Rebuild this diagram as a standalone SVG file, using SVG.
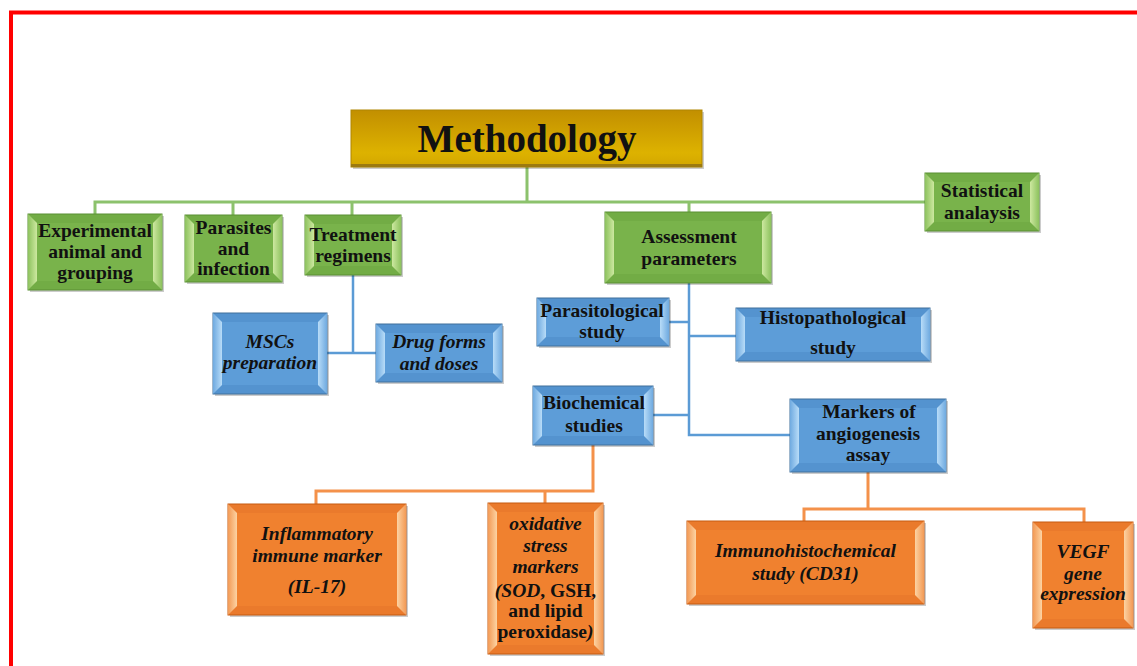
<svg xmlns="http://www.w3.org/2000/svg" width="1137" height="666" viewBox="0 0 1137 666">
<defs>
<linearGradient id="gold" x1="0" y1="0" x2="0" y2="1">
<stop offset="0" stop-color="#C28F00"/><stop offset="0.75" stop-color="#DDB200"/><stop offset="1" stop-color="#D2A600"/>
</linearGradient>
<linearGradient id="gL" x1="0" y1="0" x2="1" y2="0">
<stop offset="0" stop-color="#8DC25E"/><stop offset="1" stop-color="#CDE8A0"/>
</linearGradient>
<linearGradient id="gR" x1="1" y1="0" x2="0" y2="0">
<stop offset="0" stop-color="#8DC25E"/><stop offset="1" stop-color="#CDE8A0"/>
</linearGradient>
<linearGradient id="bL" x1="0" y1="0" x2="1" y2="0">
<stop offset="0" stop-color="#6FAAE0"/><stop offset="1" stop-color="#B8DCF8"/>
</linearGradient>
<linearGradient id="bR" x1="1" y1="0" x2="0" y2="0">
<stop offset="0" stop-color="#6FAAE0"/><stop offset="1" stop-color="#B8DCF8"/>
</linearGradient>
<linearGradient id="oL" x1="0" y1="0" x2="1" y2="0">
<stop offset="0" stop-color="#F39A55"/><stop offset="1" stop-color="#FCD3A3"/>
</linearGradient>
<linearGradient id="oR" x1="1" y1="0" x2="0" y2="0">
<stop offset="0" stop-color="#F39A55"/><stop offset="1" stop-color="#FCD3A3"/>
</linearGradient>
<style>
.sh{fill:#000;opacity:.2}
.go{fill:#72AC45;stroke:#5B8F35;stroke-width:1}
.gl{fill:url(#gL)}
.gr{fill:url(#gR)}
.gi{fill:#79B34B}
.bo{fill:#5493CF;stroke:#41719C;stroke-width:1}
.bl{fill:url(#bL)}
.br{fill:url(#bR)}
.bi{fill:#5D9DD8}
.oo{fill:#EA7A2C;stroke:#C55A11;stroke-width:1}
.ol{fill:url(#oL)}
.or{fill:url(#oR)}
.oi{fill:#F0812F}
.t{font-family:"Liberation Serif","Times New Roman",serif;font-weight:bold;font-size:19.5px;text-anchor:middle;fill:#111}
.i{font-style:italic}
.cg{fill:none;stroke:#8CC26C;stroke-width:3}
.cb{fill:none;stroke:#5B9BD5;stroke-width:2.5}
.co{fill:none;stroke:#F4914A;stroke-width:3}
</style>
</defs>
<rect width="1137" height="666" fill="#fff"/>
<path d="M11 666V12.5H1137" fill="none" stroke="#FF0000" stroke-width="4"/>

<g id="connectors">
<path class="cg" d="M527 167V202M95 214V202H925M233 215V202M352 215V202M689 212V202"/>
<path class="cb" d="M353 275V353M327 353H376M689 283V435H790M669 322H689M689 336H736M653 415H689"/>
<path class="co" d="M593 445V491H316V504M545 491V503M868 472V509M804 521V509H1084V522"/>
</g>

<g id="methodology">
<rect class="sh" x="353" y="112" width="351" height="57"/>
<rect x="351" y="110" width="351" height="57" fill="url(#gold)" stroke="#B08600" stroke-width="1"/>
<rect x="351" y="164" width="351" height="3" fill="#9C7A10"/>
<text class="t" x="527" y="152" style="font-size:39px">Methodology</text>
</g>

<g id="experimental">
<rect class="sh" x="30" y="216" width="134" height="76"/>
<rect class="go" x="28" y="214" width="134" height="76"/>
<polygon class="gl" points="28,214 37,223 37,281 28,290"/>
<polygon class="gr" points="162,214 153,223 153,281 162,290"/>
<rect class="gi" x="37" y="223" width="116" height="58"/>
<text class="t" x="95" y="237">Experimental</text>
<text class="t" x="95" y="258">animal and</text>
<text class="t" x="95" y="279">grouping</text>
</g>

<g id="parasites">
<rect class="sh" x="187" y="217" width="97" height="67"/>
<rect class="go" x="185" y="215" width="97" height="67"/>
<polygon class="gl" points="185,215 194,224 194,273 185,282"/>
<polygon class="gr" points="282,215 273,224 273,273 282,282"/>
<rect class="gi" x="194" y="224" width="79" height="49"/>
<text class="t" x="233.5" y="234">Parasites</text>
<text class="t" x="233.5" y="255">and</text>
<text class="t" x="233.5" y="275">infection</text>
</g>

<g id="treatment">
<rect class="sh" x="307" y="217" width="96" height="60"/>
<rect class="go" x="305" y="215" width="96" height="60"/>
<polygon class="gl" points="305,215 314,224 314,266 305,275"/>
<polygon class="gr" points="401,215 392,224 392,266 401,275"/>
<rect class="gi" x="314" y="224" width="78" height="42"/>
<text class="t" x="353" y="241">Treatment</text>
<text class="t" x="353" y="262">regimens</text>
</g>

<g id="assessment">
<rect class="sh" x="607" y="214" width="166" height="71"/>
<rect class="go" x="605" y="212" width="166" height="71"/>
<polygon class="gl" points="605,212 614,221 614,274 605,283"/>
<polygon class="gr" points="771,212 762,221 762,274 771,283"/>
<rect class="gi" x="614" y="221" width="148" height="53"/>
<text class="t" x="689" y="243">Assessment</text>
<text class="t" x="689" y="265">parameters</text>
</g>

<g id="statistical">
<rect class="sh" x="927" y="175" width="114" height="58"/>
<rect class="go" x="925" y="173" width="114" height="58"/>
<polygon class="gl" points="925,173 934,182 934,222 925,231"/>
<polygon class="gr" points="1039,173 1030,182 1030,222 1039,231"/>
<rect class="gi" x="934" y="182" width="96" height="40"/>
<text class="t" x="982" y="197">Statistical</text>
<text class="t" x="982" y="219">analaysis</text>
</g>

<g id="mscs">
<rect class="sh" x="215" y="315" width="114" height="81"/>
<rect class="bo" x="213" y="313" width="114" height="81"/>
<polygon class="bl" points="213,313 222,322 222,385 213,394"/>
<polygon class="br" points="327,313 318,322 318,385 327,394"/>
<rect class="bi" x="222" y="322" width="96" height="63"/>
<text class="t i" x="270" y="348">MSCs</text>
<text class="t i" x="270" y="369">preparation</text>
</g>

<g id="drug">
<rect class="sh" x="378" y="326" width="126" height="58"/>
<rect class="bo" x="376" y="324" width="126" height="58"/>
<polygon class="bl" points="376,324 385,333 385,373 376,382"/>
<polygon class="br" points="502,324 493,333 493,373 502,382"/>
<rect class="bi" x="385" y="333" width="108" height="40"/>
<text class="t i" x="439" y="348">Drug forms</text>
<text class="t i" x="439" y="370">and doses</text>
</g>

<g id="parasitological">
<rect class="sh" x="539" y="300" width="132" height="48"/>
<rect class="bo" x="537" y="298" width="132" height="48"/>
<polygon class="bl" points="537,298 546,307 546,337 537,346"/>
<polygon class="br" points="669,298 660,307 660,337 669,346"/>
<rect class="bi" x="546" y="307" width="114" height="30"/>
<text class="t" x="602" y="317">Parasitological</text>
<text class="t" x="602" y="338">study</text>
</g>

<g id="histopathological">
<rect class="sh" x="738" y="310" width="194" height="53"/>
<rect class="bo" x="736" y="308" width="194" height="53"/>
<polygon class="bl" points="736,308 745,317 745,352 736,361"/>
<polygon class="br" points="930,308 921,317 921,352 930,361"/>
<rect class="bi" x="745" y="317" width="176" height="35"/>
<text class="t" x="833" y="324">Histopathological</text>
<text class="t" x="833" y="354">study</text>
</g>

<g id="biochemical">
<rect class="sh" x="535" y="388" width="120" height="59"/>
<rect class="bo" x="533" y="386" width="120" height="59"/>
<polygon class="bl" points="533,386 542,395 542,436 533,445"/>
<polygon class="br" points="653,386 644,395 644,436 653,445"/>
<rect class="bi" x="542" y="395" width="102" height="41"/>
<text class="t" x="594" y="409">Biochemical</text>
<text class="t" x="594" y="432">studies</text>
</g>

<g id="markers">
<rect class="sh" x="792" y="401" width="156" height="73"/>
<rect class="bo" x="790" y="399" width="156" height="73"/>
<polygon class="bl" points="790,399 799,408 799,463 790,472"/>
<polygon class="br" points="946,399 937,408 937,463 946,472"/>
<rect class="bi" x="799" y="408" width="138" height="55"/>
<text class="t" x="869" y="418">Markers of</text>
<text class="t" x="868" y="440">angiogenesis</text>
<text class="t" x="868" y="461">assay</text>
</g>

<g id="inflammatory">
<rect class="sh" x="230" y="506" width="178" height="111"/>
<rect class="oo" x="228" y="504" width="178" height="111"/>
<polygon class="ol" points="228,504 237,513 237,606 228,615"/>
<polygon class="or" points="406,504 397,513 397,606 406,615"/>
<rect class="oi" x="237" y="513" width="160" height="93"/>
<text class="t i" x="317" y="540">Inflammatory</text>
<text class="t i" x="317" y="562">immune marker</text>
<text class="t i" x="317" y="593">(IL-17)</text>
</g>

<g id="oxidative">
<rect class="sh" x="490" y="505" width="115" height="151"/>
<rect class="oo" x="488" y="503" width="115" height="151"/>
<polygon class="ol" points="488,503 497,512 497,645 488,654"/>
<polygon class="or" points="603,503 594,512 594,645 603,654"/>
<rect class="oi" x="497" y="512" width="97" height="133"/>
<text class="t i" x="545.5" y="530">oxidative</text>
<text class="t i" x="545.5" y="552">stress</text>
<text class="t i" x="545.5" y="573">markers</text>
<text class="t" x="545.5" y="597"><tspan class="i">(SOD</tspan>, GSH,</text>
<text class="t" x="545.5" y="617">and lipid</text>
<text class="t" x="545.5" y="638">peroxidase<tspan class="i">)</tspan></text>
</g>

<g id="immuno">
<rect class="sh" x="689" y="523" width="237" height="83"/>
<rect class="oo" x="687" y="521" width="237" height="83"/>
<polygon class="ol" points="687,521 696,530 696,595 687,604"/>
<polygon class="or" points="924,521 915,530 915,595 924,604"/>
<rect class="oi" x="696" y="530" width="219" height="65"/>
<text class="t i" x="805.5" y="557">Immunohistochemical</text>
<text class="t i" x="805.5" y="580">study (CD31)</text>
</g>

<g id="vegf">
<rect class="sh" x="1035" y="524" width="100" height="106"/>
<rect class="oo" x="1033" y="522" width="100" height="106"/>
<polygon class="ol" points="1033,522 1042,531 1042,619 1033,628"/>
<polygon class="or" points="1133,522 1124,531 1124,619 1133,628"/>
<rect class="oi" x="1042" y="531" width="82" height="88"/>
<text class="t i" x="1083" y="558">VEGF</text>
<text class="t i" x="1083" y="580">gene</text>
<text class="t i" x="1083" y="600">expression</text>
</g>
</svg>
